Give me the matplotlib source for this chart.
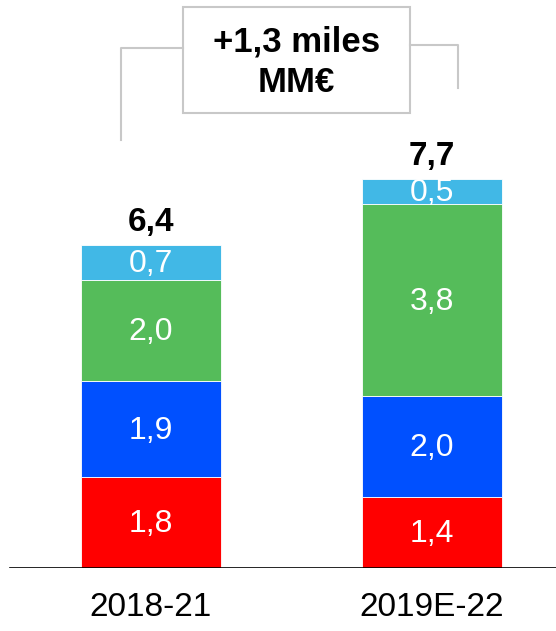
import matplotlib
matplotlib.use("Agg")
import matplotlib.pyplot as plt
from matplotlib.patches import Rectangle

plt.rcParams['font.family'] = ['Liberation Sans', 'DejaVu Sans']

categories = ["2018-21", "2019E-22"]
red_vals = [1.8, 1.4]
blue_vals = [1.9, 2.0]
green_vals = [2.0, 3.8]
lightblue_vals = [0.7, 0.5]
totals = [6.4, 7.7]
seg_labels = [["1,8", "1,9", "2,0", "0,7"], ["1,4", "2,0", "3,8", "0,5"]]
total_labels = ["6,4", "7,7"]
box_text = "+1,3 miles\nMM€"

colors = ['#ff0000', '#0050ff', '#55bc5a', '#41b8e6']
series = [red_vals, blue_vals, green_vals, lightblue_vals]

ppu = 50.5  # pixels per unit (layout only)
fig = plt.figure(figsize=(5.56, 6.31), dpi=100)
ax = fig.add_axes([0, 63/631, 1, 568/631])
ax.set_xlim(-0.537, 1.441)
top = 568 / ppu
ax.set_ylim(0, top)

def py(p):
    # pixel row from top -> data y
    return (568 - p) / ppu

x = list(range(len(categories)))
width = 0.498
bottoms = [0.0] * len(categories)
for si, vals in enumerate(series):
    ax.bar(x, vals, width=width, bottom=bottoms, color=colors[si],
           edgecolor='white', linewidth=0.6)
    for i, v in enumerate(vals):
        ax.text(x[i], bottoms[i] + v / 2 - 0.03, seg_labels[i][si], ha='center', va='center',
                color='white', fontsize=23)
    bottoms = [b + v for b, v in zip(bottoms, vals)]

for i, t in enumerate(totals):
    ax.text(x[i], t + 0.45, total_labels[i], ha='center', va='center',
            fontsize=24, fontweight='bold', color='black')

# baseline
ax.axhline(0, xmin=10/556, xmax=1, color='black', linewidth=1.2)

for s in ax.spines.values():
    s.set_visible(False)
ax.set_yticks([])
ax.set_xticks(x)
ax.set_xticklabels(categories, fontsize=24)
ax.tick_params(axis='x', length=0, pad=17)

# bracket
gc = '#c8c8c8'
ax.plot([-0.107, -0.107, 0.114], [py(140), py(48), py(48)], color=gc, linewidth=1.5, clip_on=False)
ax.plot([0.922, 1.093, 1.093], [py(45), py(45), py(88)], color=gc, linewidth=1.5, clip_on=False)
ax.add_patch(Rectangle((0.114, py(113)), 0.922 - 0.114, py(7) - py(113), facecolor='white',
                       edgecolor=gc, linewidth=1.5, clip_on=False))
ax.text(0.518, py(62.5), box_text, ha='center', va='center', fontsize=25,
        fontweight='bold', linespacing=1.28)

fig.savefig("out.png", dpi=100)
